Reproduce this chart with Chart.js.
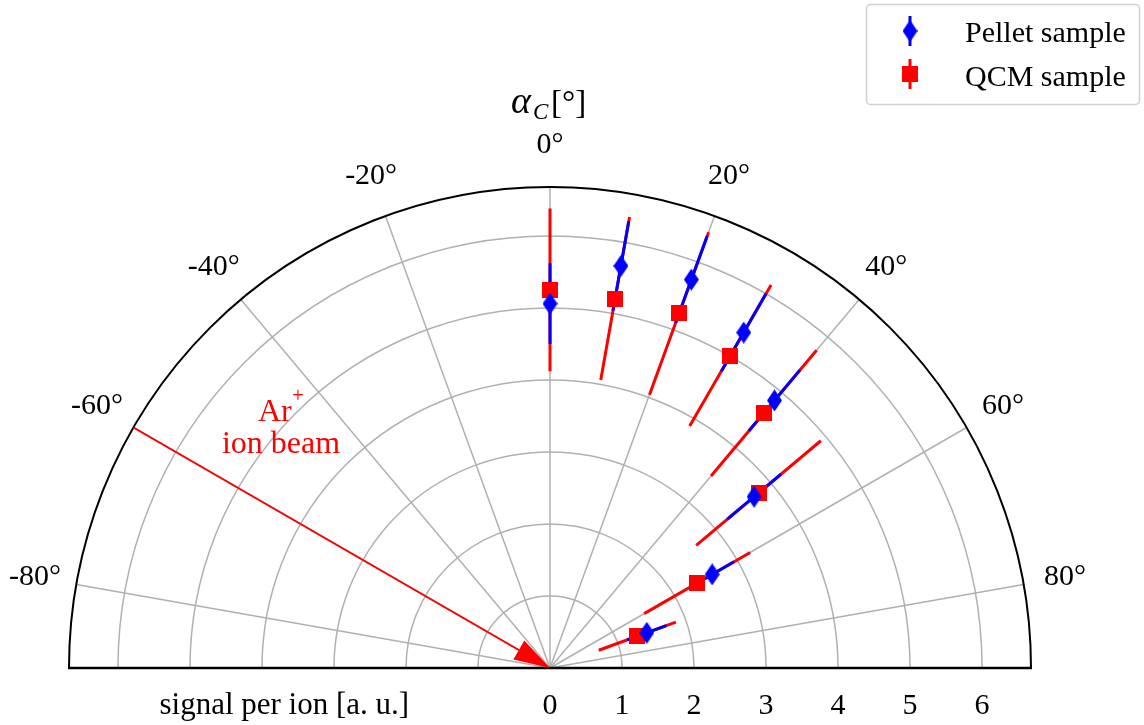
<!DOCTYPE html>
<html>
<head>
<meta charset="utf-8">
<script src="https://cdn.jsdelivr.net/npm/chart.js@4.4.1/dist/chart.umd.min.js"></script>
<style>
  html, body { margin: 0; padding: 0; background: #fff; }
  #caixa { width: 1144px; height: 725px; position: relative; }
</style>
</head>
<body>
<div id="caixa"><canvas id="graficoPolar"></canvas></div>
<script>
// Dados (ângulo em graus, sinal por íon em u.a.)
const angulos = [0, 10, 20, 30, 40, 50, 60, 70];
const pelletSinal = [5.06, 5.67, 5.74, 5.38, 4.85, 3.70, 2.60, 1.43];
const pelletErro = [0.56, 0.63, 0.64, 0.62, 0.55, 0.49, 0.35, 0.29];
const qcmSinal = [5.25, 5.21, 5.24, 5.01, 4.62, 3.78, 2.36, 1.29];
const qcmErro = [1.13, 1.15, 1.20, 1.13, 1.14, 1.13, 0.85, 0.57];

const raioMax = 6.68;
const ticksRaio = [0, 1, 2, 3, 4, 5, 6];
const ticksAngulo = [-80, -60, -40, -20, 0, 20, 40, 60, 80];
const anguloFeixe = -60;

const AZUL = '#0000ff';
const VERMELHO = '#ff0000';
const SERIF = "'Liberation Serif', 'Times New Roman', serif";

// Converte coordenada polar (0° para cima) em cartesiana
function polar(r, grau) {
  const t = grau * Math.PI / 180;
  return { x: r * Math.sin(t), y: r * Math.cos(t) };
}

function pontos(sinais) {
  return sinais.map((r, i) => polar(r, angulos[i]));
}

// Barras de erro radiais, separadas por lacunas
function barras(sinais, erros) {
  const pts = [];
  sinais.forEach((r, i) => {
    pts.push(polar(r - erros[i], angulos[i]));
    pts.push(polar(r + erros[i], angulos[i]));
    pts.push({ x: null, y: null });
  });
  return pts;
}

// Marcadores desenhados em canvas
function marcadorLosango(w, h, cor) {
  const c = document.createElement('canvas');
  c.width = w; c.height = h;
  const g = c.getContext('2d');
  g.fillStyle = cor;
  g.beginPath();
  g.moveTo(w / 2, 0); g.lineTo(w, h / 2); g.lineTo(w / 2, h); g.lineTo(0, h / 2);
  g.closePath(); g.fill();
  return c;
}
function marcadorQuadrado(l, cor) {
  const c = document.createElement('canvas');
  c.width = l; c.height = l;
  const g = c.getContext('2d');
  g.fillStyle = cor;
  g.fillRect(0, 0, l, l);
  return c;
}
const losango = marcadorLosango(15, 22, AZUL);
const quadrado = marcadorQuadrado(16, VERMELHO);

// Grade polar, eixos, textos e legenda
const gradePolar = {
  id: 'gradePolar',
  beforeDatasetsDraw(chart) {
    const { ctx, scales: { x, y } } = chart;
    const cx = x.getPixelForValue(0), cy = y.getPixelForValue(0);
    const px = v => x.getPixelForValue(v) - cx;
    const R = px(raioMax);
    ctx.save();
    ctx.strokeStyle = '#b0b0b0';
    ctx.lineWidth = 1.5;
    ticksRaio.filter(v => v > 0).forEach(v => {
      ctx.beginPath();
      ctx.arc(cx, cy, px(v), Math.PI, 2 * Math.PI);
      ctx.stroke();
    });
    ticksAngulo.forEach(a => {
      const t = a * Math.PI / 180;
      ctx.beginPath();
      ctx.moveTo(cx, cy);
      ctx.lineTo(cx + R * Math.sin(t), cy - R * Math.cos(t));
      ctx.stroke();
    });
    ctx.restore();
  },
  afterDatasetsDraw(chart) {
    const { ctx, scales: { x, y } } = chart;
    const cx = x.getPixelForValue(0), cy = y.getPixelForValue(0);
    const px = v => x.getPixelForValue(v) - cx;
    const R = px(raioMax);
    ctx.save();

    // contorno
    ctx.strokeStyle = '#000';
    ctx.lineWidth = 2;
    ctx.beginPath();
    ctx.arc(cx, cy, R, Math.PI, 2 * Math.PI);
    ctx.stroke();
    ctx.lineWidth = 2.5;
    ctx.beginPath();
    ctx.moveTo(cx - R - 1, cy); ctx.lineTo(cx + R + 1, cy);
    ctx.stroke();

    // rótulos de ângulo
    ctx.fillStyle = '#000';
    ctx.font = `30px ${SERIF}`;
    ctx.textAlign = 'center';
    ctx.textBaseline = 'middle';
    ticksAngulo.forEach(a => {
      const t = a * Math.PI / 180;
      const d = R + 42;
      ctx.fillText(`${a}°`, cx + d * Math.sin(t), cy - d * Math.cos(t));
    });

    // rótulos de raio
    ctx.font = `30px ${SERIF}`;
    ticksRaio.forEach(v => ctx.fillText(String(v), x.getPixelForValue(v), cy + 38));
    ctx.font = `31px ${SERIF}`;
    ctx.fillText('signal per ion [a. u.]', x.getPixelForValue(-3.69), cy + 38);

    // título α_C[°]
    ctx.textAlign = 'left';
    ctx.textBaseline = 'alphabetic';
    ctx.font = `italic 38px ${SERIF}`;
    ctx.fillText('α', cx - 39, 113);
    ctx.font = `italic 23px ${SERIF}`;
    ctx.fillText('C', cx - 17, 119);
    ctx.font = `33px ${SERIF}`;
    ctx.fillText('[°]', cx + 1, 113);

    // feixe de íons
    const ini = polar(raioMax, anguloFeixe);
    const x0 = x.getPixelForValue(ini.x), y0 = y.getPixelForValue(ini.y);
    const ang = Math.atan2(cy - y0, cx - x0);
    const cab = 36, larg = 11;
    const bx = cx - cab * Math.cos(ang), by = cy - cab * Math.sin(ang);
    ctx.strokeStyle = VERMELHO;
    ctx.fillStyle = VERMELHO;
    ctx.lineWidth = 2;
    ctx.beginPath();
    ctx.moveTo(x0, y0); ctx.lineTo(bx, by);
    ctx.stroke();
    ctx.beginPath();
    ctx.moveTo(cx, cy);
    ctx.lineTo(bx - larg * Math.sin(ang), by + larg * Math.cos(ang));
    ctx.lineTo(bx + larg * Math.sin(ang), by - larg * Math.cos(ang));
    ctx.closePath();
    ctx.fill();

    ctx.font = `32px ${SERIF}`;
    ctx.textAlign = 'left';
    ctx.fillText('Ar', 258, 421);
    ctx.font = `21px ${SERIF}`;
    ctx.fillText('+', 292, 402);
    ctx.font = `32px ${SERIF}`;
    ctx.textAlign = 'center';
    ctx.fillText('ion beam', 281, 453);

    // legenda
    ctx.fillStyle = '#fff';
    ctx.strokeStyle = '#d0d0d0';
    ctx.lineWidth = 1.5;
    ctx.beginPath();
    ctx.roundRect(866.5, 4.5, 273, 100, 4);
    ctx.fill();
    ctx.stroke();

    ctx.lineWidth = 3;
    ctx.strokeStyle = AZUL;
    ctx.beginPath(); ctx.moveTo(910, 16); ctx.lineTo(910, 46); ctx.stroke();
    ctx.drawImage(losango, 910 - 7.5, 31 - 11);
    ctx.strokeStyle = VERMELHO;
    ctx.beginPath(); ctx.moveTo(910, 59); ctx.lineTo(910, 89); ctx.stroke();
    ctx.drawImage(quadrado, 902, 66);

    ctx.fillStyle = '#000';
    ctx.font = `30px ${SERIF}`;
    ctx.textAlign = 'left';
    ctx.fillText('Pellet sample', 965, 42);
    ctx.fillText('QCM sample', 965, 86);
    ctx.restore();
  }
};

new Chart(document.getElementById('graficoPolar'), {
  type: 'scatter',
  data: {
    datasets: [
      {
        label: 'Pellet sample',
        data: pontos(pelletSinal),
        pointStyle: losango,
        order: 0
      },
      {
        label: 'QCM sample',
        data: pontos(qcmSinal),
        pointStyle: quadrado,
        order: 1
      },
      {
        label: 'Pellet erro',
        data: barras(pelletSinal, pelletErro),
        showLine: true,
        borderColor: AZUL,
        borderWidth: 3,
        pointRadius: 0,
        spanGaps: false,
        order: 2
      },
      {
        label: 'QCM erro',
        data: barras(qcmSinal, qcmErro),
        showLine: true,
        borderColor: VERMELHO,
        borderWidth: 3,
        pointRadius: 0,
        spanGaps: false,
        order: 3
      }
    ]
  },
  options: {
    responsive: true,
    maintainAspectRatio: false,
    animation: false,
    layout: { padding: { left: 69, right: 113, top: 187, bottom: 57 } },
    plugins: { legend: { display: false }, tooltip: { enabled: false } },
    scales: {
      x: { type: 'linear', min: -raioMax, max: raioMax, display: false },
      y: { type: 'linear', min: 0, max: raioMax, display: false }
    },
    clip: false
  },
  plugins: [gradePolar]
});
</script>
</body>
</html>
